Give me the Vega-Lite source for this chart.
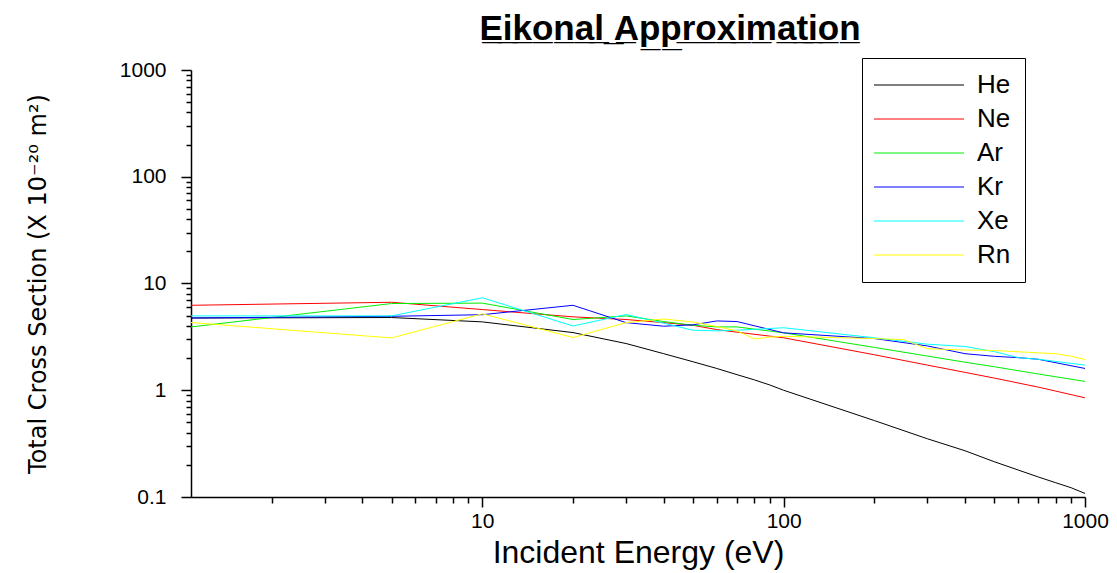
{
  "$schema": "https://vega.github.io/schema/vega-lite/v6.json",
  "width": 894,
  "height": 427,
  "autosize": {"type": "none"},
  "padding": {"left": 191, "top": 70, "right": 32, "bottom": 76},
  "background": "white",
  "config": {
    "view": {"stroke": null},
    "font": "Liberation Sans"
  },
  "title": {
    "text": "E̲i̲k̲o̲n̲a̲l̲ ̲A̲p̲p̲r̲o̲x̲i̲m̲a̲t̲i̲o̲n̲",
    "font": "Liberation Sans",
    "fontSize": 35,
    "fontWeight": "bold",
    "color": "black",
    "anchor": "middle",
    "dx": 32,
    "offset": 11
  },
  "data": {
    "values": [
      {"E": 1.08, "s": 4.75, "g": "He"}, {"E": 5, "s": 4.8, "g": "He"}, {"E": 10, "s": 4.37, "g": "He"}, {"E": 20, "s": 3.47, "g": "He"}, {"E": 30, "s": 2.74, "g": "He"}, {"E": 40, "s": 2.2, "g": "He"}, {"E": 50, "s": 1.85, "g": "He"}, {"E": 60, "s": 1.6, "g": "He"}, {"E": 70, "s": 1.4, "g": "He"}, {"E": 80, "s": 1.25, "g": "He"}, {"E": 90, "s": 1.12, "g": "He"}, {"E": 100, "s": 1.0, "g": "He"}, {"E": 200, "s": 0.52, "g": "He"}, {"E": 300, "s": 0.351, "g": "He"}, {"E": 400, "s": 0.271, "g": "He"}, {"E": 500, "s": 0.214, "g": "He"}, {"E": 600, "s": 0.179, "g": "He"}, {"E": 700, "s": 0.154, "g": "He"}, {"E": 800, "s": 0.136, "g": "He"}, {"E": 900, "s": 0.122, "g": "He"}, {"E": 1000, "s": 0.108, "g": "He"},
      {"E": 1.08, "s": 6.25, "g": "Ne"}, {"E": 5, "s": 6.67, "g": "Ne"}, {"E": 10, "s": 5.7, "g": "Ne"}, {"E": 20, "s": 4.87, "g": "Ne"}, {"E": 30, "s": 4.6, "g": "Ne"}, {"E": 40, "s": 4.3, "g": "Ne"}, {"E": 50, "s": 4.06, "g": "Ne"}, {"E": 60, "s": 3.7, "g": "Ne"}, {"E": 70, "s": 3.5, "g": "Ne"}, {"E": 100, "s": 3.1, "g": "Ne"}, {"E": 200, "s": 2.15, "g": "Ne"}, {"E": 300, "s": 1.72, "g": "Ne"}, {"E": 400, "s": 1.47, "g": "Ne"}, {"E": 500, "s": 1.3, "g": "Ne"}, {"E": 700, "s": 1.07, "g": "Ne"}, {"E": 1000, "s": 0.85, "g": "Ne"},
      {"E": 1.08, "s": 3.92, "g": "Ar"}, {"E": 5, "s": 6.49, "g": "Ar"}, {"E": 10, "s": 6.55, "g": "Ar"}, {"E": 20, "s": 4.6, "g": "Ar"}, {"E": 30, "s": 4.97, "g": "Ar"}, {"E": 40, "s": 4.4, "g": "Ar"}, {"E": 50, "s": 4.06, "g": "Ar"}, {"E": 60, "s": 3.92, "g": "Ar"}, {"E": 70, "s": 3.92, "g": "Ar"}, {"E": 100, "s": 3.45, "g": "Ar"}, {"E": 200, "s": 2.52, "g": "Ar"}, {"E": 300, "s": 2.09, "g": "Ar"}, {"E": 400, "s": 1.83, "g": "Ar"}, {"E": 500, "s": 1.66, "g": "Ar"}, {"E": 700, "s": 1.42, "g": "Ar"}, {"E": 1000, "s": 1.21, "g": "Ar"},
      {"E": 1.08, "s": 4.75, "g": "Kr"}, {"E": 5, "s": 4.93, "g": "Kr"}, {"E": 10, "s": 5.1, "g": "Kr"}, {"E": 20, "s": 6.25, "g": "Kr"}, {"E": 30, "s": 4.3, "g": "Kr"}, {"E": 40, "s": 3.98, "g": "Kr"}, {"E": 50, "s": 4.1, "g": "Kr"}, {"E": 60, "s": 4.46, "g": "Kr"}, {"E": 70, "s": 4.4, "g": "Kr"}, {"E": 100, "s": 3.45, "g": "Kr"}, {"E": 200, "s": 3.05, "g": "Kr"}, {"E": 300, "s": 2.6, "g": "Kr"}, {"E": 400, "s": 2.2, "g": "Kr"}, {"E": 500, "s": 2.08, "g": "Kr"}, {"E": 600, "s": 2.02, "g": "Kr"}, {"E": 700, "s": 1.95, "g": "Kr"}, {"E": 1000, "s": 1.6, "g": "Kr"},
      {"E": 1.08, "s": 4.97, "g": "Xe"}, {"E": 5, "s": 4.97, "g": "Xe"}, {"E": 10, "s": 7.35, "g": "Xe"}, {"E": 20, "s": 4.0, "g": "Xe"}, {"E": 30, "s": 5.12, "g": "Xe"}, {"E": 40, "s": 4.25, "g": "Xe"}, {"E": 50, "s": 3.65, "g": "Xe"}, {"E": 60, "s": 3.6, "g": "Xe"}, {"E": 70, "s": 3.65, "g": "Xe"}, {"E": 100, "s": 3.85, "g": "Xe"}, {"E": 200, "s": 3.1, "g": "Xe"}, {"E": 300, "s": 2.7, "g": "Xe"}, {"E": 400, "s": 2.57, "g": "Xe"}, {"E": 500, "s": 2.3, "g": "Xe"}, {"E": 600, "s": 2.02, "g": "Xe"}, {"E": 700, "s": 1.95, "g": "Xe"}, {"E": 1000, "s": 1.72, "g": "Xe"},
      {"E": 1.08, "s": 4.31, "g": "Rn"}, {"E": 5, "s": 3.09, "g": "Rn"}, {"E": 10, "s": 5.2, "g": "Rn"}, {"E": 20, "s": 3.12, "g": "Rn"}, {"E": 30, "s": 4.3, "g": "Rn"}, {"E": 40, "s": 4.65, "g": "Rn"}, {"E": 50, "s": 4.35, "g": "Rn"}, {"E": 60, "s": 3.95, "g": "Rn"}, {"E": 70, "s": 3.6, "g": "Rn"}, {"E": 80, "s": 3.02, "g": "Rn"}, {"E": 90, "s": 3.15, "g": "Rn"}, {"E": 100, "s": 3.2, "g": "Rn"}, {"E": 200, "s": 3.05, "g": "Rn"}, {"E": 250, "s": 2.98, "g": "Rn"}, {"E": 300, "s": 2.45, "g": "Rn"}, {"E": 400, "s": 2.38, "g": "Rn"}, {"E": 500, "s": 2.36, "g": "Rn"}, {"E": 700, "s": 2.24, "g": "Rn"}, {"E": 800, "s": 2.2, "g": "Rn"}, {"E": 900, "s": 2.08, "g": "Rn"}, {"E": 1000, "s": 1.94, "g": "Rn"}
    ]
  },
  "mark": {"type": "line", "strokeWidth": 1, "clip": true},
  "encoding": {
    "x": {
      "field": "E",
      "type": "quantitative",
      "scale": {"type": "log", "domain": [1.08, 1000], "nice": false},
      "axis": {
        "title": "Incident Energy (eV)",
        "values": [2,3,4,5,6,7,8,9,10,20,30,40,50,60,70,80,90,100,200,300,400,500,600,700,800,900,1000],
        "labelExpr": "abs(log(datum.value)/LN10 - round(log(datum.value)/LN10)) < 1e-6 ? format(datum.value, '~g') : ''",
        "tickSize": {"condition": {"test": "abs(log(datum.value)/LN10 - round(log(datum.value)/LN10)) < 1e-6", "value": 10}, "value": 6},
        "grid": false,
        "domainColor": "black",
        "domainWidth": 1.5,
        "tickColor": "black",
        "tickWidth": 1.5,
        "labelColor": "black",
        "labelFont": "Liberation Sans",
        "labelFontSize": 21,
        "labelPadding": 3,
        "labelFlush": false,
        "labelOverlap": false,
        "titleFont": "Liberation Sans",
        "titleFontSize": 32,
        "titleFontWeight": "normal",
        "titleColor": "black",
        "titlePadding": 6
      }
    },
    "y": {
      "field": "s",
      "type": "quantitative",
      "scale": {"type": "log", "domain": [0.1, 1000], "nice": false},
      "axis": {
        "title": "Total Cross Section (X 10⁻²⁰ m²)",
        "values": [0.1,0.2,0.3,0.4,0.5,0.6,0.7,0.8,0.9,1,2,3,4,5,6,7,8,9,10,20,30,40,50,60,70,80,90,100,200,300,400,500,600,700,800,900,1000],
        "labelExpr": "abs(log(datum.value)/LN10 - round(log(datum.value)/LN10)) < 1e-6 ? format(datum.value, '~g') : ''",
        "tickSize": {"condition": {"test": "abs(log(datum.value)/LN10 - round(log(datum.value)/LN10)) < 1e-6", "value": 10}, "value": 5},
        "grid": false,
        "domainColor": "black",
        "domainWidth": 1.5,
        "tickColor": "black",
        "tickWidth": 1.5,
        "labelColor": "black",
        "labelFont": "Liberation Sans",
        "labelFontSize": 21,
        "labelPadding": 15,
        "labelOverlap": false,
        "titleFont": "DejaVu Sans",
        "titleFontSize": 24,
        "titleFontWeight": "normal",
        "titleColor": "black",
        "titlePadding": 69
      }
    },
    "color": {
      "field": "g",
      "type": "nominal",
      "sort": ["He", "Ne", "Ar", "Kr", "Xe", "Rn"],
      "scale": {"domain": ["He", "Ne", "Ar", "Kr", "Xe", "Rn"], "range": ["#000000", "#ff0000", "#00ee00", "#0000ff", "#00ffff", "#ffff00"]},
      "legend": {
        "title": null,
        "orient": "none",
        "legendX": 671,
        "legendY": -12,
        "symbolType": "M-3,0H15",
        "symbolSize": 100,
        "symbolStrokeWidth": 1,
        "labelFont": "Liberation Sans",
        "labelFontSize": 26,
        "labelColor": "black",
        "labelOffset": 75,
        "strokeColor": "black",
        "padding": 14,
        "rowPadding": 8
      }
    }
  }
}
